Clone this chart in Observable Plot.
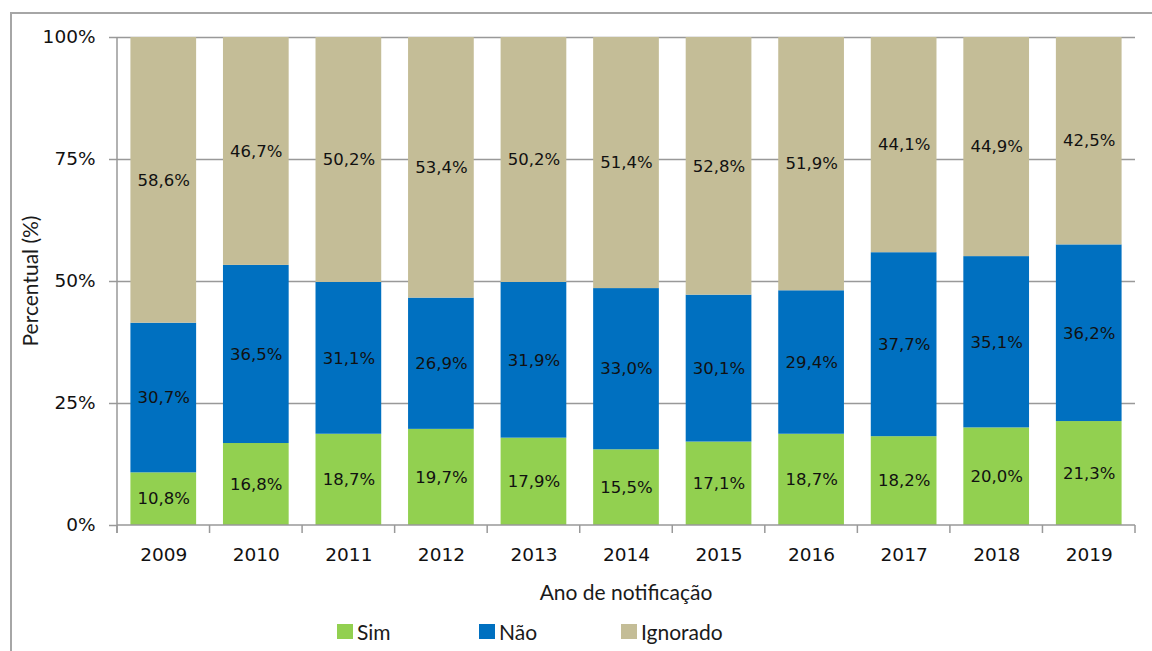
<!DOCTYPE html>
<html><head><meta charset="utf-8">
<script src="https://cdn.jsdelivr.net/npm/d3@7"></script>
<script src="https://cdn.jsdelivr.net/npm/@observablehq/plot@0.6"></script>
<style>
body{margin:0;background:#fff;width:1152px;height:651px;overflow:hidden;position:relative;font-family:"DejaVu Sans",sans-serif}
#frame{position:absolute;left:10px;top:12px;width:1200px;height:700px;border:2px solid #a6a6a6;box-sizing:border-box}
#chart{position:absolute;left:0;top:0}
#ylabel{position:absolute;left:29px;top:281px;transform:translate(-50%,-50%) rotate(-90deg);font:21px Lato;color:#1a1a1a;white-space:nowrap}
#xlabel{position:absolute;left:117px;width:1018px;top:579px;text-align:center;font:21px Lato;color:#1a1a1a}
#legend{position:absolute;left:337px;top:619px;display:grid;grid-template-columns:repeat(3,142px);font:21px Lato;color:#1a1a1a}
.item{display:flex;align-items:center}
.sw{width:16px;height:15px;margin-right:4px}
</style></head><body>
<div id="frame"></div>
<div id="chart"></div>
<div id="ylabel">Percentual (%)</div>
<div id="xlabel">Ano de notificação</div>
<div id="legend"></div>
<script>
const years = ["2009","2010","2011","2012","2013","2014","2015","2016","2017","2018","2019"];
const categories = ["Sim","Não","Ignorado"];
const colors = ["#92D050","#0070C0","#C4BD97"];
const sim = [10.8,16.8,18.7,19.7,17.9,15.5,17.1,18.7,18.2,20.0,21.3];
const nao = [30.7,36.5,31.1,26.9,31.9,33.0,30.1,29.4,37.7,35.1,36.2];
const ign = [58.6,46.7,50.2,53.4,50.2,51.4,52.8,51.9,44.1,44.9,42.5];
const yTicks = [0,0.25,0.5,0.75,1];

const series = [sim, nao, ign];
const rows = [];
years.forEach((yr, i) => categories.forEach((c, j) => rows.push({year: yr, cat: c, value: series[j][i]})));
const fmt = v => v.toFixed(1).replace(".", ",") + "%";
const PAD = 0.29;

function xAxisFrame(index, scales, values, dims) {
  const x = scales.x, y = scales.y;
  const step = x(years[1]) - x(years[0]);
  const bw = typeof x.bandwidth === "function" ? x.bandwidth() : step * (1 - PAD);
  const off = (step - bw) / 2;
  const bounds = years.map(yr => x(yr) - off);
  bounds.push(x(years[years.length - 1]) + bw + off);
  const y0 = y(0), y1 = y(1);
  const g = d3.create("svg:g").attr("stroke", "#999").attr("stroke-width", 1.5);
  g.append("line").attr("x1", bounds[0]).attr("x2", bounds[bounds.length - 1]).attr("y1", y0).attr("y2", y0);
  g.append("line").attr("x1", bounds[0]).attr("x2", bounds[0]).attr("y1", y1).attr("y2", y0 + 8);
  bounds.forEach(b => g.append("line").attr("x1", b).attr("x2", b).attr("y1", y0).attr("y2", y0 + 8));
  return g.node();
}

const chart = Plot.plot({
  width: 1152, height: 610,
  marginLeft: 117, marginRight: 17, marginTop: 37, marginBottom: 85,
  style: {fontFamily: "DejaVu Sans", fontSize: "18.5px", color: "#111", background: "transparent", overflow: "visible"},
  x: {domain: years, paddingInner: PAD, paddingOuter: PAD / 2, align: 0.5, round: false, label: null},
  y: {domain: [0, 1], label: null},
  color: {domain: categories, range: colors},
  marks: [
    Plot.gridY(yTicks.slice(1), {stroke: "#999", strokeOpacity: 1, strokeWidth: 1.5}),
    Plot.barY(rows, Plot.stackY({x: "year", y: "value", z: "cat", fill: "cat", order: categories, offset: "normalize"})),
    Plot.text(rows, Plot.stackY({x: "year", y: "value", z: "cat", order: categories, offset: "normalize",
      text: d => fmt(d.value), fontSize: 16.5, fill: "#111"})),
    Plot.axisY(yTicks, {tickSize: 8, tickPadding: 14, tickFormat: d => Math.round(d * 100) + "%",
      stroke: "#999", strokeWidth: 1.5, strokeOpacity: 1, label: null}),
    Plot.axisX({tickSize: 0, tickPadding: 22, label: null}),
    xAxisFrame
  ]
});
document.getElementById("chart").appendChild(chart);

const legend = d3.select("#legend");
categories.forEach((c, i) => {
  const it = legend.append("div").attr("class", "item");
  it.append("div").attr("class", "sw").style("background", colors[i]);
  it.append("span").text(c);
});
</script>
</body></html>
